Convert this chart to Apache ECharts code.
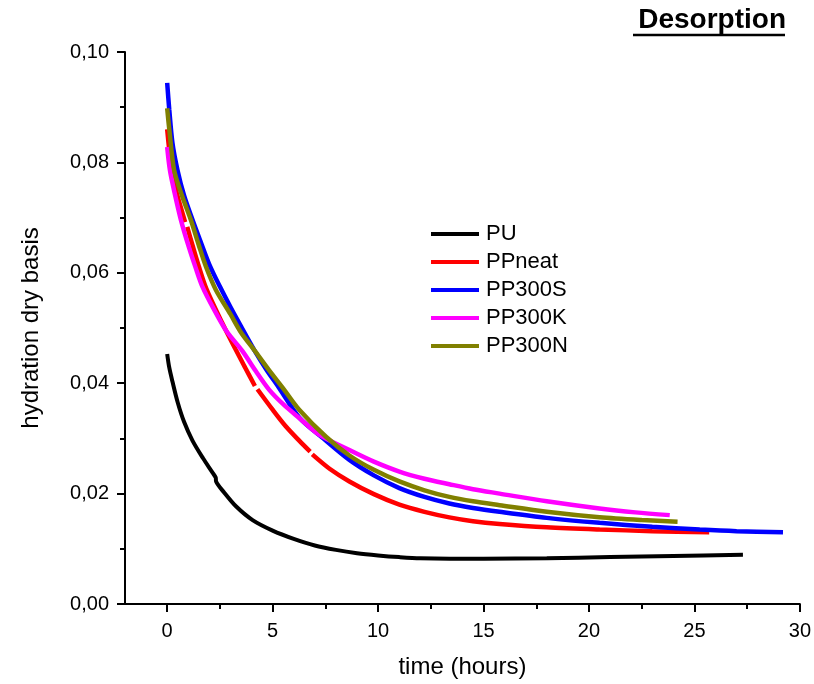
<!DOCTYPE html>
<html>
<head>
<meta charset="utf-8">
<script src="https://cdn.jsdelivr.net/npm/echarts@6/dist/echarts.min.js"></script>
<style>html,body{margin:0;padding:0;background:#fff}#c{width:814px;height:684px}</style>
</head>
<body>
<div id="c"></div>
<script>
// ---- data (time in hours, hydration dry basis) ----
const seriesNames = ['PU', 'PPneat', 'PP300S', 'PP300K', 'PP300N'];
const xTicks = [0, 5, 10, 15, 20, 25, 30];
const xMinorTicks = [2.5, 7.5, 12.5, 17.5, 22.5, 27.5];
const yTicks = [0, 0.02, 0.04, 0.06, 0.08, 0.10];

const PU = [[0,0.0453],[0.1,0.0428],[0.25,0.0403],[0.5,0.0365],[0.8,0.0330],[1.2,0.0296],[1.7,0.0264],[2.15,0.0238],[2.3,0.0229],[2.32,0.0222],[2.7,0.0202],[3.26,0.0177],[4.05,0.0152],[5,0.0133],[6,0.0118],[7,0.0106],[8,0.0098],[9,0.0092],[10,0.0088],[11,0.0085],[12,0.0083],[15,0.0082],[18,0.0083],[21,0.0085],[24,0.0087],[27.3,0.0089]];

const PPneat = [[0,0.0860],[0.1,0.0822],[0.22,0.0786],[0.45,0.0745],[0.65,0.0718],[0.85,0.0692],[0.9,null],[0.95,0.0683],[1.2,0.0650],[1.49,0.0613],[1.86,0.0571],[2.6,0.0510],[3.26,0.0460],[3.7,0.0428],[4.16,0.0395],[4.21,null],[4.28,0.0389],[5.0,0.0352],[5.6,0.0323],[6.26,0.0296],[6.78,0.0276],[6.82,null],[6.88,0.0271],[7.7,0.0245],[8.64,0.0222],[9.8,0.0199],[11.01,0.0180],[12.2,0.0167],[13.38,0.0157],[14.5,0.0150],[15.76,0.0145],[18,0.0139],[20.5,0.0135],[23,0.0132],[25.7,0.0130]];

const PP300S = [[0,0.0944],[0.1,0.0895],[0.25,0.0835],[0.49,0.0786],[0.8,0.0740],[1.2,0.0696],[1.6,0.0655],[2.0,0.0615],[2.5,0.0575],[3.0,0.0538],[3.5,0.0503],[4.13,0.0460],[4.7,0.0425],[5.3,0.0392],[6.26,0.0338],[7.4,0.0300],[8.64,0.0261],[9.8,0.0233],[11.01,0.0210],[12.2,0.0194],[13.38,0.0182],[14.5,0.0174],[15.76,0.0167],[18,0.0156],[20.5,0.0147],[23,0.0140],[25.25,0.0135],[27,0.0132],[29.2,0.0130]];

const PP300K = [[0,0.0828],[0.13,0.0786],[0.35,0.0745],[0.65,0.0696],[1.04,0.0645],[1.36,0.0608],[1.67,0.0575],[2.2,0.0535],[2.8,0.0495],[3.57,0.0458],[4.2,0.0422],[4.84,0.0388],[5.5,0.0362],[6.26,0.0337],[7.2,0.0307],[8.64,0.0279],[9.8,0.0258],[11.01,0.0240],[12.2,0.0227],[13.38,0.0217],[14.5,0.0208],[15.76,0.0200],[18,0.0186],[20.5,0.0173],[22.2,0.0166],[23.83,0.0161]];

const PP300N = [[0,0.0898],[0.1,0.0860],[0.33,0.0786],[0.7,0.0740],[1.12,0.0696],[1.5,0.0650],[1.84,0.0611],[2.31,0.0569],[3.0,0.0525],[3.5,0.0492],[4.13,0.0460],[4.8,0.0425],[5.55,0.0388],[6.26,0.0352],[7.53,0.0303],[8.64,0.0269],[9.8,0.0243],[11.01,0.0222],[12.2,0.0206],[13.38,0.0194],[14.5,0.0186],[15.76,0.0179],[18,0.0167],[20.5,0.0157],[22.5,0.0152],[24.2,0.0149]];

const allData = [PU, PPneat, PP300S, PP300K, PP300N];
const colors = ['#000000', '#ff0000', '#0000ff', '#ff00ff', '#808000'];

// ---- chart ----
const FONT = "'Liberation Sans', Arial, sans-serif";
const chart = echarts.init(document.getElementById('c'), null, {renderer: 'canvas'});
const fmt = v => v.toFixed(2).replace('.', ',');

const option = {
  animation: false,
  backgroundColor: '#ffffff',
  grid: {left: 125, right: 14, top: 52, bottom: 80, containLabel: false},
  legend: {
    data: seriesNames,
    orient: 'vertical',
    left: 426, top: 218,
    icon: 'rect', itemWidth: 48, itemHeight: 4, itemGap: 6,
    textStyle: {fontFamily: FONT, fontSize: 22, color: '#000', lineHeight: 22, padding: [0, 0, 0, 2]}
  },
  xAxis: [{
    type: 'value', min: -2, max: 30,
    name: 'time (hours)', nameLocation: 'middle', nameGap: 51,
    nameTextStyle: {fontFamily: FONT, fontSize: 24, color: '#000'},
    axisLine: {show: true, onZero: false, lineStyle: {color: '#000', width: 2}},
    axisTick: {show: true, inside: false, length: 8, lineStyle: {color: '#000', width: 2}, customValues: xTicks},
    axisLabel: {fontFamily: FONT, fontSize: 20, color: '#000', margin: 17, customValues: xTicks},
    splitLine: {show: false}
  }, {
    type: 'value', min: -2, max: 30, position: 'bottom',
    axisLine: {show: false},
    axisTick: {show: true, inside: false, length: 5, lineStyle: {color: '#000', width: 2}, customValues: xMinorTicks},
    axisLabel: {show: false},
    splitLine: {show: false}
  }],
  yAxis: {
    type: 'value', min: 0, max: 0.1, interval: 0.02,
    name: 'hydration dry basis', nameLocation: 'middle', nameGap: 82, nameRotate: 90,
    nameTextStyle: {fontFamily: FONT, fontSize: 24, color: '#000'},
    axisLine: {show: true, onZero: false, lineStyle: {color: '#000', width: 2}},
    axisTick: {show: true, inside: false, length: 8, lineStyle: {color: '#000', width: 2}},
    minorTick: {show: true, splitNumber: 2, length: 5, lineStyle: {color: '#000', width: 2}},
    axisLabel: {fontFamily: FONT, fontSize: 20, color: '#000', margin: 16, formatter: fmt},
    splitLine: {show: false}
  },
  graphic: [
    {type: 'text', right: 814 - 786, top: 6,
     style: {text: 'Desorption', font: "bold 28px 'Liberation Sans', Arial, sans-serif", fill: '#000'}},
    {type: 'line', shape: {x1: 633, y1: 35, x2: 785, y2: 35}, style: {stroke: '#000', lineWidth: 2.5}}
  ],
  series: seriesNames.map((n, i) => ({
    name: n, type: 'line', xAxisIndex: 0,
    showSymbol: false, symbol: 'none', smooth: 0.3, connectNulls: false,
    color: colors[i],
    lineStyle: {color: colors[i], width: i === 0 ? 4 : 4.5},
    data: allData[i].map(p => [p[0], p[1] === null ? '-' : p[1]])
  }))
};
chart.setOption(option);
</script>
</body>
</html>
